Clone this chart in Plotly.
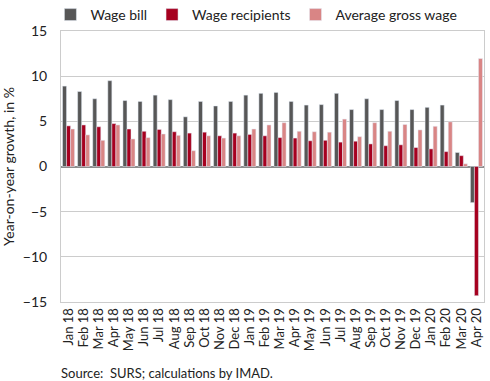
import plotly.graph_objects as go

months = ["Jan 18","Feb 18","Mar 18","Apr 18","May 18","Jun 18","Jul 18","Aug 18","Sep 18","Oct 18","Nov 18","Dec 18",
          "Jan 19","Feb 19","Mar 19","Apr 19","May 19","Jun 19","Jul 19","Aug 19","Sep 19","Oct 19","Nov 19","Dec 19",
          "Jan 20","Feb 20","Mar 20","Apr 20"]
wage_bill = [8.9, 8.3, 7.5, 9.5, 7.3, 7.2, 7.9, 7.4, 5.5, 7.2, 6.7, 7.2,
             7.9, 8.1, 8.2, 7.2, 6.8, 6.85, 8.1, 6.3, 7.5, 6.3, 7.3, 6.3,
             6.55, 6.8, 1.55, -4.0]
wage_recipients = [4.5, 4.6, 4.4, 4.75, 4.15, 3.9, 4.1, 3.85, 3.7, 3.8, 3.4, 3.7,
                   3.55, 3.4, 3.2, 3.15, 2.85, 2.9, 2.7, 2.8, 2.5, 2.3, 2.4, 2.1,
                   1.95, 1.65, 1.2, -14.3]
avg_gross_wage = [4.15, 3.5, 2.9, 4.6, 3.05, 3.2, 3.6, 3.45, 1.75, 3.4, 3.15, 3.4,
                  4.15, 4.6, 4.85, 3.9, 3.85, 3.8, 5.25, 3.3, 4.85, 3.9, 4.65, 4.05,
                  4.45, 4.95, 0.3, 11.95]
y_ticks = [-15, -10, -5, 0, 5, 10, 15]

FONT = "Lato"
fig = go.Figure()
fig.add_bar(x=months, y=wage_bill, name="Wage bill", marker_color="#575757")
fig.add_bar(x=months, y=wage_recipients, name="Wage recipients", marker_color="#a6001f")
fig.add_bar(x=months, y=avg_gross_wage, name="Average gross wage", marker_color="#d98585")

fig.update_layout(
    width=490, height=381,
    margin=dict(l=61, r=6, t=31, b=79, autoexpand=False),
    plot_bgcolor="white", paper_bgcolor="white",
    barmode="group", bargap=0.2, bargroupgap=0,
    font=dict(family=FONT, size=13, color="#222222"),
    legend=dict(orientation="h", x=-0.025, xanchor="left", y=1.0, yanchor="bottom",
                font=dict(size=14), itemwidth=30, tracegroupgap=0,
                bgcolor="rgba(0,0,0,0)"),
    showlegend=True,
)
fig.update_xaxes(tickangle=-90, tickfont=dict(size=13), tickmode="array", tickvals=months,
                 showline=True, linecolor="#cccccc", mirror=True, automargin=False,
                 ticks="", showgrid=False)
fig.update_yaxes(range=[-15, 15], tickvals=y_ticks, tickfont=dict(size=14), automargin=False,
                 showgrid=True, gridcolor="#cccccc", gridwidth=1,
                 zeroline=True, zerolinecolor="#8c8c8c", zerolinewidth=1.5,
                 showline=True, linecolor="#cccccc", mirror=True, ticks="outside", ticklen=10,
                 tickcolor="rgba(0,0,0,0)",
                 title=dict(text="Year-on-year growth, in %", font=dict(size=14), standoff=7))
fig.add_annotation(text="Source:  SURS; calculations by IMAD.", xref="paper", yref="paper",
                   x=-0.005, y=0, yanchor="top", xanchor="left", yshift=-61,
                   showarrow=False, font=dict(size=13, color="#222222"))
fig.write_html("out.html", config={"displayModeBar": False},
               post_script="document.body.style.margin='0';")
